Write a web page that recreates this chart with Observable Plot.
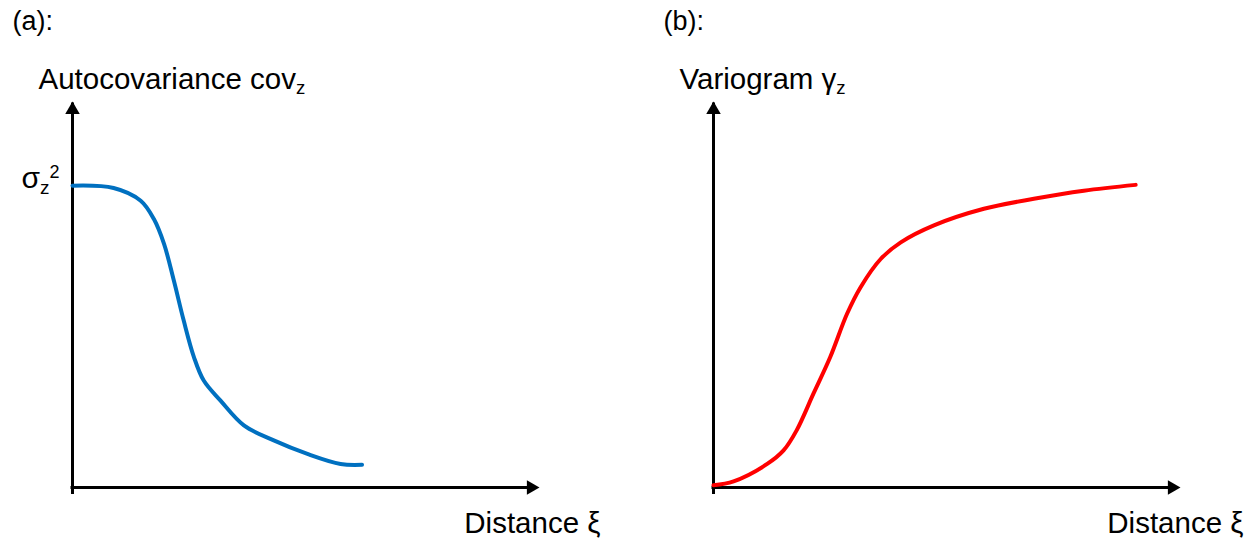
<!DOCTYPE html>
<html>
<head>
<meta charset="utf-8">
<script src="https://cdn.jsdelivr.net/npm/d3@7"></script>
<script src="https://cdn.jsdelivr.net/npm/@observablehq/plot@0.6"></script>
<style>
  html, body { margin: 0; padding: 0; background: #fff; }
  #figure { display: flex; width: 1253px; height: 539px; overflow: hidden; }
</style>
</head>
<body>
<div id="figure"></div>
<script>
// Labels ("_" marks a subscript, "^" a superscript character)
const panelTags = ["(a):", "(b):"];
const yLabels = ["Autocovariance cov_z", "Variogram γ_z"];
const xLabel = "Distance ξ";
const sillLabel = "σ_z^2";

// Axis extent in (arbitrary) distance / value units
const axisMax = 10;

// (a) autocovariance vs distance
const covDistance = [0, 0.88, 1.46, 1.74, 1.96, 2.17, 2.38, 2.60, 2.81, 3.17, 3.67, 4.31, 5.03, 5.74, 6.20];
const covValue    = [7.82, 7.76, 7.43, 6.96, 6.31, 5.36, 4.33, 3.38, 2.77, 2.25, 1.61, 1.22, 0.87, 0.61, 0.59];

// (b) variogram vs distance
const varioDistance = [0, 0.43, 1.15, 1.50, 1.78, 2.14, 2.50, 2.86, 3.15, 3.58, 4.01, 4.72, 5.79, 6.86, 7.93, 9.04];
const varioValue    = [0.06, 0.16, 0.61, 0.96, 1.48, 2.43, 3.38, 4.50, 5.19, 5.92, 6.35, 6.79, 7.22, 7.48, 7.69, 7.84];

const FONT = "'Liberation Sans', Arial, sans-serif";

// Turn "_x" / "^x" markers into sub/superscript tspans.
function applyScripts(svg) {
  d3.select(svg).selectAll("text").each(function () {
    const s = this.textContent;
    if (!/[_^]/.test(s)) return;
    const F = parseFloat(getComputedStyle(this).fontSize);
    const segs = [];
    for (let i = 0; i < s.length; i++) {
      const c = s[i];
      if ((c === "_" || c === "^") && i + 1 < s.length) {
        segs.push({t: s[i + 1], kind: c === "_" ? "sub" : "sup"});
        i++;
      } else {
        const last = segs[segs.length - 1];
        if (last && last.kind === "base") last.t += c;
        else segs.push({t: c, kind: "base"});
      }
    }
    const sel = d3.select(this);
    sel.text(null);
    let offset = 0;
    for (const seg of segs) {
      const target = seg.kind === "sub" ? 0.2 * F : seg.kind === "sup" ? -0.32 * F : 0;
      const size = seg.kind === "sub" ? 0.63 * F : seg.kind === "sup" ? 0.6 * F : F;
      sel.append("tspan")
        .attr("dy", target - offset)
        .attr("font-size", size)
        .text(seg.t);
      offset = target;
    }
  });
}

const panels = [
  {tag: panelTags[0], yLabel: yLabels[0], distance: covDistance, value: covValue, color: "#0070C0", width: 641, tagDx: -60, sill: true, xDx: 61},
  {tag: panelTags[1], yLabel: yLabels[1], distance: varioDistance, value: varioValue, color: "#FF0000", width: 612, tagDx: -50, sill: false, xDx: 63}
];

const figure = document.getElementById("figure");

for (const p of panels) {
  const rows = p.distance.map((d, i) => ({distance: d, value: p.value[i]}));
  const marks = [
    // axes with filled arrowheads
    Plot.ruleX([0], {y1: 0, y2: axisMax, stroke: "black", strokeWidth: 3, insetTop: 7, insetBottom: -1.5}),
    Plot.ruleY([0], {x1: 0, x2: axisMax, stroke: "black", strokeWidth: 3, insetRight: 7, insetLeft: -1.5}),
    Plot.dot([axisMax], {x: 0, y: d => d, symbol: "triangle", r: 5.4, fill: "black", dy: 8.4}),
    Plot.dot([axisMax], {x: d => d, y: 0, symbol: "triangle", r: 5.4, fill: "black", rotate: 90, dx: -8.4}),
    // curve
    Plot.line(rows, {x: "distance", y: "value", curve: "catmull-rom", stroke: p.color, strokeWidth: 4}),
    // labels
    Plot.text([p.tag], {frameAnchor: "top-left", text: d => d, textAnchor: "start", lineAnchor: "bottom", fontSize: 27, dx: p.tagDx, dy: -72}),
    Plot.text([p.yLabel], {x: 0, y: axisMax, text: d => d, textAnchor: "start", lineAnchor: "bottom", fontSize: 29.5, dx: -34, dy: -13}),
    Plot.text([xLabel], {x: axisMax, y: 0, text: d => d, textAnchor: "end", lineAnchor: "bottom", fontSize: 29.5, dx: p.xDx, dy: 45})
  ];
  if (p.sill) {
    marks.push(Plot.text([sillLabel], {x: 0, y: p.value[0], text: d => d, textAnchor: "end", lineAnchor: "bottom", fontSize: 30, dx: -13, dy: 2}));
  }
  const chart = Plot.plot({
    width: p.width,
    height: 539,
    marginLeft: 72,
    marginRight: p.width - 539,
    marginTop: 101,
    marginBottom: 52,
    x: {domain: [0, axisMax], axis: null},
    y: {domain: [0, axisMax], axis: null},
    style: {fontFamily: FONT, background: "white", overflow: "visible", color: "black"},
    marks
  });
  figure.appendChild(chart);
  applyScripts(chart);
}
</script>
</body>
</html>
